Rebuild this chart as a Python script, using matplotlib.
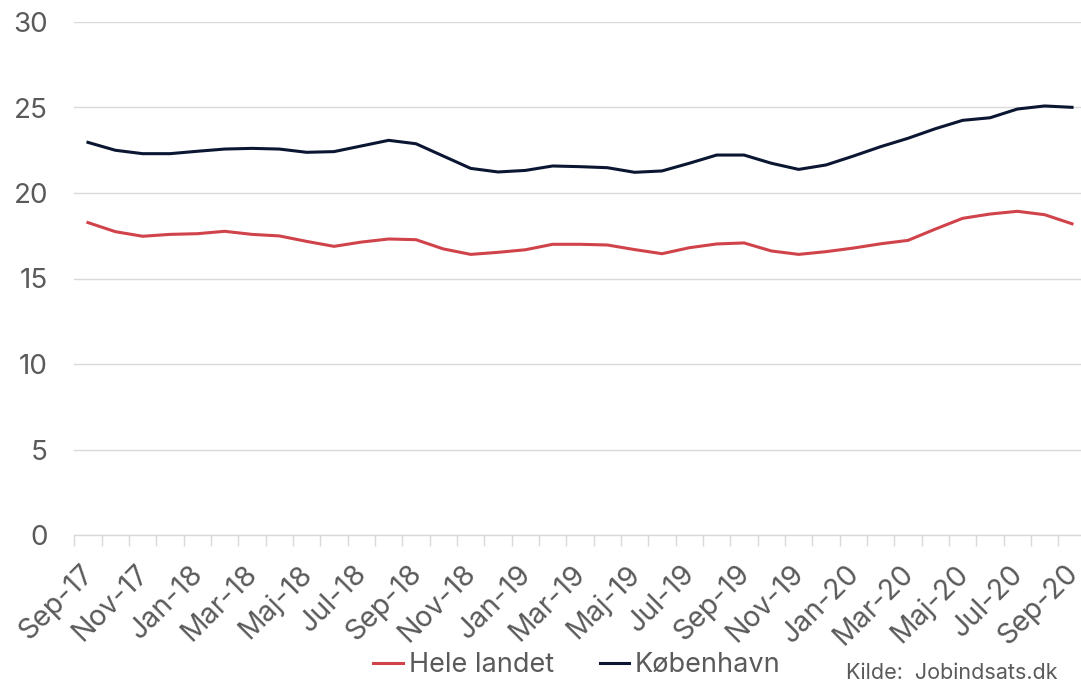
import matplotlib
matplotlib.use("Agg")
import matplotlib.pyplot as plt
from matplotlib.transforms import ScaledTranslation

plt.rcParams['font.family'] = ['Inter', 'DejaVu Sans']

# Monthly series, Sep-17 .. Sep-20
months = [
    "Sep-17", "Okt-17", "Nov-17", "Dec-17",
    "Jan-18", "Feb-18", "Mar-18", "Apr-18", "Maj-18", "Jun-18",
    "Jul-18", "Aug-18", "Sep-18", "Okt-18", "Nov-18", "Dec-18",
    "Jan-19", "Feb-19", "Mar-19", "Apr-19", "Maj-19", "Jun-19",
    "Jul-19", "Aug-19", "Sep-19", "Okt-19", "Nov-19", "Dec-19",
    "Jan-20", "Feb-20", "Mar-20", "Apr-20", "Maj-20", "Jun-20",
    "Jul-20", "Aug-20", "Sep-20",
]

hele_landet = [
    18.27, 17.74, 17.47, 17.58, 17.62, 17.76, 17.58, 17.49, 17.17, 16.88,
    17.13, 17.31, 17.27, 16.73, 16.41, 16.53, 16.68, 17.00, 17.00, 16.96,
    16.69, 16.45, 16.80, 17.02, 17.08, 16.61, 16.41, 16.57, 16.78, 17.03,
    17.23, 17.89, 18.52, 18.77, 18.93, 18.73, 18.20,
]

koebenhavn = [
    22.96, 22.50, 22.30, 22.30, 22.44, 22.57, 22.61, 22.57, 22.38, 22.42,
    22.75, 23.08, 22.88, 22.16, 21.44, 21.23, 21.32, 21.58, 21.54, 21.48,
    21.21, 21.29, 21.74, 22.22, 22.22, 21.74, 21.38, 21.64, 22.16, 22.71,
    23.20, 23.76, 24.25, 24.40, 24.91, 25.09, 25.01,
]

y_ticks = [0, 5, 10, 15, 20, 25, 30]

RED = "#d0434b"
NAVY = "#0b1633"
GREY_TEXT = "#5a5a5a"
GRID = "#d9d9d9"

fig = plt.figure(figsize=(10.81, 6.88), dpi=100)
ax = fig.add_axes([74.3 / 1081, 1 - 535 / 688, (1085.7 - 74.3) / 1081, (535 - 22) / 688])

x = list(range(len(months)))
ax.plot(x, hele_landet, color=RED, lw=2.2, label="Hele landet", solid_joinstyle="round")
ax.plot(x, koebenhavn, color=NAVY, lw=2.2, label="København", solid_joinstyle="round")

ax.set_xlim(-0.5, len(months) - 0.5)
ax.set_ylim(0, 30)
ax.set_yticks(y_ticks)
ax.yaxis.grid(True, color=GRID, lw=1.0)
ax.set_axisbelow(True)

for side in ("top", "right", "left"):
    ax.spines[side].set_visible(False)
ax.spines["bottom"].set_color(GRID)
ax.spines["bottom"].set_linewidth(1.0)

ax.tick_params(axis="y", length=0, pad=19, labelsize=20, labelcolor=GREY_TEXT)

# labels on every second month, tick marks on category boundaries
ax.set_xticks(x[::2])
ax.set_xticklabels(months[::2], rotation=45, ha="right", va="top",
                   rotation_mode="anchor", fontsize=20.5, color=GREY_TEXT)
ax.set_xticks([i - 0.5 for i in range(len(months) + 1)], minor=True)
ax.tick_params(axis="x", which="major", length=0, pad=18)
ax.tick_params(axis="x", which="minor", length=8, color=GRID, width=1.0)

shift = ScaledTranslation(-8 / 100, 0, fig.dpi_scale_trans)
for lbl in ax.get_xticklabels():
    lbl.set_transform(lbl.get_transform() + shift)

leg = fig.legend(loc="center", bbox_to_anchor=(577 / 1081, 1 - 665 / 688),
                 ncol=2, frameon=False, handlelength=1.1,
                 prop={"size": 19.5},
                 handletextpad=0.2, columnspacing=1.7, labelcolor=GREY_TEXT)

fig.text(1057 / 1081, 1 - 679 / 688, "Kilde:  Jobindsats.dk", ha="right",
         va="baseline", fontsize=15.5, color=GREY_TEXT)

fig.savefig("out.png", dpi=100)
